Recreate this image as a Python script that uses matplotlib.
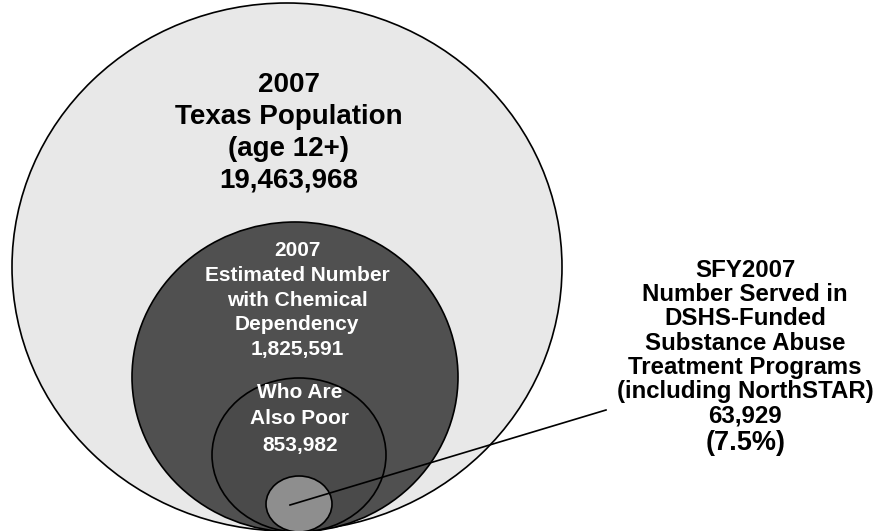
import matplotlib
matplotlib.use("Agg")
import matplotlib.pyplot as plt
from matplotlib.patches import Ellipse

plt.rcParams['font.family'] = ['Liberation Sans', 'DejaVu Sans']

## data ##
years = ['2007', '2007', '', 'SFY2007']
titles = ['Texas Population\n(age 12+)',
          'Estimated Number\nwith Chemical\nDependency',
          'Who Are\nAlso Poor',
          'Number Served in\nDSHS-Funded\nSubstance Abuse\nTreatment Programs\n(including NorthSTAR)']
counts = [19463968, 1825591, 853982, 63929]
served_pct = 63929 / 853982 * 100   # share of the poor group -> 7.5%
##

fig = plt.figure(figsize=(8.78, 5.31), dpi=100)
ax = fig.add_axes([0, 0, 1, 1])
ax.set_xlim(0, 878)
ax.set_ylim(531, 0)
ax.axis('off')

# nested ellipses, all touching at the bottom (pixel coords)
shapes = [((287, 267), 550, 528, '#e8e8e8'),
          ((295, 377), 326, 310, '#505050'),
          ((299, 455), 174, 154, '#4a4a4a'),
          ((299, 504), 66, 56, '#8e8e8e')]
for (c, w, h, col) in shapes:
    ax.add_patch(Ellipse(c, w, h, facecolor=col, edgecolor='black', lw=1.2))

# pointer line from the small circle to the label
ax.plot([290, 606], [505, 410], color='black', lw=1.2)

def lbl(i):
    s = titles[i] + '\n' + format(counts[i], ',')
    if years[i]:
        s = years[i] + '\n' + s
    return s

ax.text(289, 133, lbl(0), ha='center', va='center', fontsize=20,
        fontweight='bold', linespacing=1.3, color='black')
ax.text(297, 300, lbl(1), ha='center', va='center', fontsize=15,
        fontweight='bold', linespacing=1.38, color='white')
ax.text(300, 419, lbl(2), ha='center', va='center', fontsize=15,
        fontweight='bold', linespacing=1.48, color='white')
ax.text(745, 343, lbl(3), ha='center', va='center', fontsize=17.3,
        fontweight='bold', linespacing=1.07, color='black')
ax.text(746, 443, '(%.1f%%)' % served_pct, ha='center', va='center',
        fontsize=19.5, fontweight='bold', color='black')

fig.savefig('out.png', dpi=100)
